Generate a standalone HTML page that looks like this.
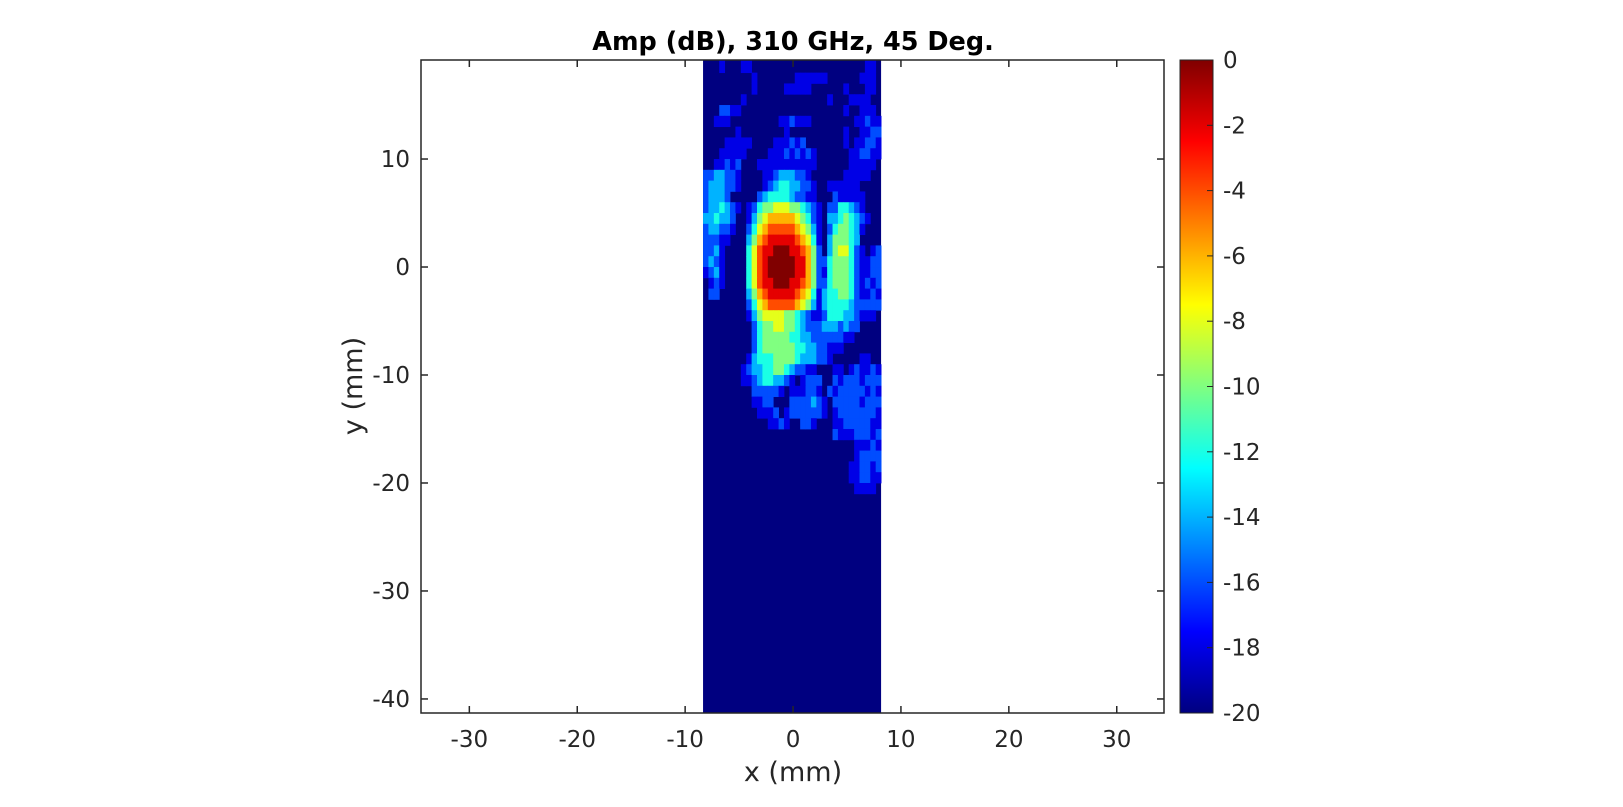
<!DOCTYPE html>
<html><head><meta charset="utf-8"><style>
body{margin:0;background:#fff;}
svg text{font-family:"DejaVu Sans","Liberation Sans",sans-serif;fill:#262626;}
</style></head><body>
<svg id="chart" width="1623" height="802" xmlns="http://www.w3.org/2000/svg">
<rect width="1623" height="802" fill="#fff"/>
<g id="heat"></g>
<g id="axes"></g>
<g id="cbar"></g>
<text x="793" y="50" text-anchor="middle" font-size="25.5" font-weight="bold" style="fill:#000">Amp (dB), 310 GHz, 45 Deg.</text>
<text x="793" y="781" text-anchor="middle" font-size="27">x (mm)</text>
<text transform="translate(362,386) rotate(-90)" text-anchor="middle" font-size="27">y (mm)</text>
</svg>
<script>
// data
const xTicks=[-30,-20,-10,0,10,20,30];
const yTicks=[10,0,-10,-20,-30,-40];
const cTicks=[0,-2,-4,-6,-8,-10,-12,-14,-16,-18,-20];
const gridXMin=-8.34, gridXMax=8.16, gridCols=33, gridYTop=19;
// rows of 1 mm starting at y=19 going down; segments "startCol:values", digit d => -2d dB, '.' => -20 dB
const gridRows=[
"3:9 7:99 30:99",
"9:9 17:999 20:999 29:999",
"9:9 15:99999 26:9 30:99",
"7:9 23:9 27:9999",
"3:8899 26:9 29:999",
"2:999 14:998999 28:99899",
"6:9 15:9 26:9 29:9988",
"4:99999 13:999898 26:9 28:99889",
"3:99999 12:999898989 27:998899",
"2:99898 10:99999999999 27:99999",
"0:8877889 11:998777889 26:99999",
"0:8777889 11:9876677889 23:999999",
"0:87778 10:87666678899 24:899999",
"0:8776789 8:98655444556789 23:8866789",
"0:776778 8:97543333345689 23:77656789",
"0:877889 8:86432222234579 23:8655679",
"0:88899 8:75321111123469 23:755567",
"0:8879 8:64211000112358 23:7544689 31:98",
"0:8789 8:64210000011358 22:86555689988",
"0:9879 8:64210000011358 22:96555689988",
"1:989 8:64211000112358 22:86555689898",
"1:88 8:75321111123469 22:76655689989",
"8:86432222234579 22:76666788888",
"8:975444455678998 23:666778999.",
"9:86554455678887 23:778788",
"9:86555556677888 23:88899",
"9:86555555667788 23:999",
"8:976665555677788 23:9 29:99",
"7:98776655678899 24:99.989989",
"7:9987667789.9888 24:898889888",
"9:888889.999889.89.98 24:988888989",
"9:9988...8888789 24:888889888",
"10:9998.98888889 24:988888889",
"12:9989..889 24:998888899",
"24:899988898",
"28:99989",
"28:98888",
"27:998898",
"27:998899",
"28:9999"
];
const NS="http://www.w3.org/2000/svg";
const X0=421,X1=1164,Y0=60,Y1=713;
const xMin=-34.48,xMax=34.38,yMin=-41.3,yMax=19.17;
const xs=v=>X0+(v-xMin)/(xMax-xMin)*(X1-X0);
const ys=v=>Y1-(v-yMin)/(yMax-yMin)*(Y1-Y0);
function jet(t){
  const c=x=>Math.max(0,Math.min(1,x));
  const r=c(1.5-Math.abs(4*t-3)),g=c(1.5-Math.abs(4*t-2)),b=c(1.5-Math.abs(4*t-1));
  return `rgb(${Math.round(r*255)},${Math.round(g*255)},${Math.round(b*255)})`;
}
const col=db=>jet((db+20)/20);
function mk(tag,attrs,parent){const e=document.createElementNS(NS,tag);for(const k in attrs)e.setAttribute(k,attrs[k]);parent.appendChild(e);return e;}
const heat=document.getElementById('heat');
const bg=mk('rect',{x:xs(gridXMin),y:Y0,width:xs(gridXMax)-xs(gridXMin),height:Y1-Y0,fill:col(-20)},heat);


const cw=(gridXMax-gridXMin)/gridCols;
gridRows.forEach((row,r)=>{
  const vals=new Array(gridCols).fill('.');
  row.split(' ').forEach(seg=>{
    const [s,d]=seg.split(':');const st=parseInt(s);
    for(let k=0;k<d.length&&st+k<gridCols;k++)vals[st+k]=d[k];
  });
  vals.forEach((ch,i)=>{
    if(ch==='.')return;
    const db=-2*parseInt(ch);
    const x0=xs(gridXMin+i*cw),x1=xs(gridXMin+(i+1)*cw);
    const yt=Math.max(Y0,ys(gridYTop-r+(r===0?1:0))),yb=ys(gridYTop-r-1);
    const e=mk('rect',{x:x0,y:yt,width:x1-x0+0.4,height:yb-yt+0.4,fill:col(db)},heat);
    
    
  });
});
const axes=document.getElementById('axes');
const box=mk('rect',{x:X0,y:Y0,width:X1-X0,height:Y1-Y0,fill:'none',stroke:'#262626','stroke-width':1.5},axes);


xTicks.forEach(v=>{
  const x=xs(v);
  mk('line',{x1:x,x2:x,y1:Y1,y2:Y1-7,stroke:'#262626','stroke-width':1.5},axes);
  mk('line',{x1:x,x2:x,y1:Y0,y2:Y0+7,stroke:'#262626','stroke-width':1.5},axes);
  const t=mk('text',{x:x,y:Y1+34,'text-anchor':'middle','font-size':23},axes);t.textContent=v;
  
  
});
yTicks.forEach(v=>{
  const y=ys(v);
  mk('line',{x1:X0,x2:X0+7,y1:y,y2:y,stroke:'#262626','stroke-width':1.5},axes);
  mk('line',{x1:X1,x2:X1-7,y1:y,y2:y,stroke:'#262626','stroke-width':1.5},axes);
  const t=mk('text',{x:X0-11,y:y+8,'text-anchor':'end','font-size':23},axes);t.textContent=v;
  
  
});
const cb=document.getElementById('cbar');
const C0=1180,C1=1213,cy=v=>Y0+(0-v)/20*(Y1-Y0);
const defs=mk('defs',{},cb);
const lg=mk('linearGradient',{id:'jetg',x1:0,y1:1,x2:0,y2:0},defs);
for(let i=0;i<=40;i++) mk('stop',{offset:i/40,'stop-color':jet(i/40)},lg);
const cr=mk('rect',{x:C0,y:Y0,width:C1-C0,height:Y1-Y0,fill:'url(#jetg)',stroke:'#262626','stroke-width':1},cb);


cTicks.forEach(v=>{
  const y=cy(v);
  mk('line',{x1:C1,x2:C1-6,y1:y,y2:y,stroke:'#262626','stroke-width':1},cb);
  const t=mk('text',{x:C1+10,y:y+8,'font-size':23},cb);t.textContent=v;
  
  
});
</script>
</body></html>
